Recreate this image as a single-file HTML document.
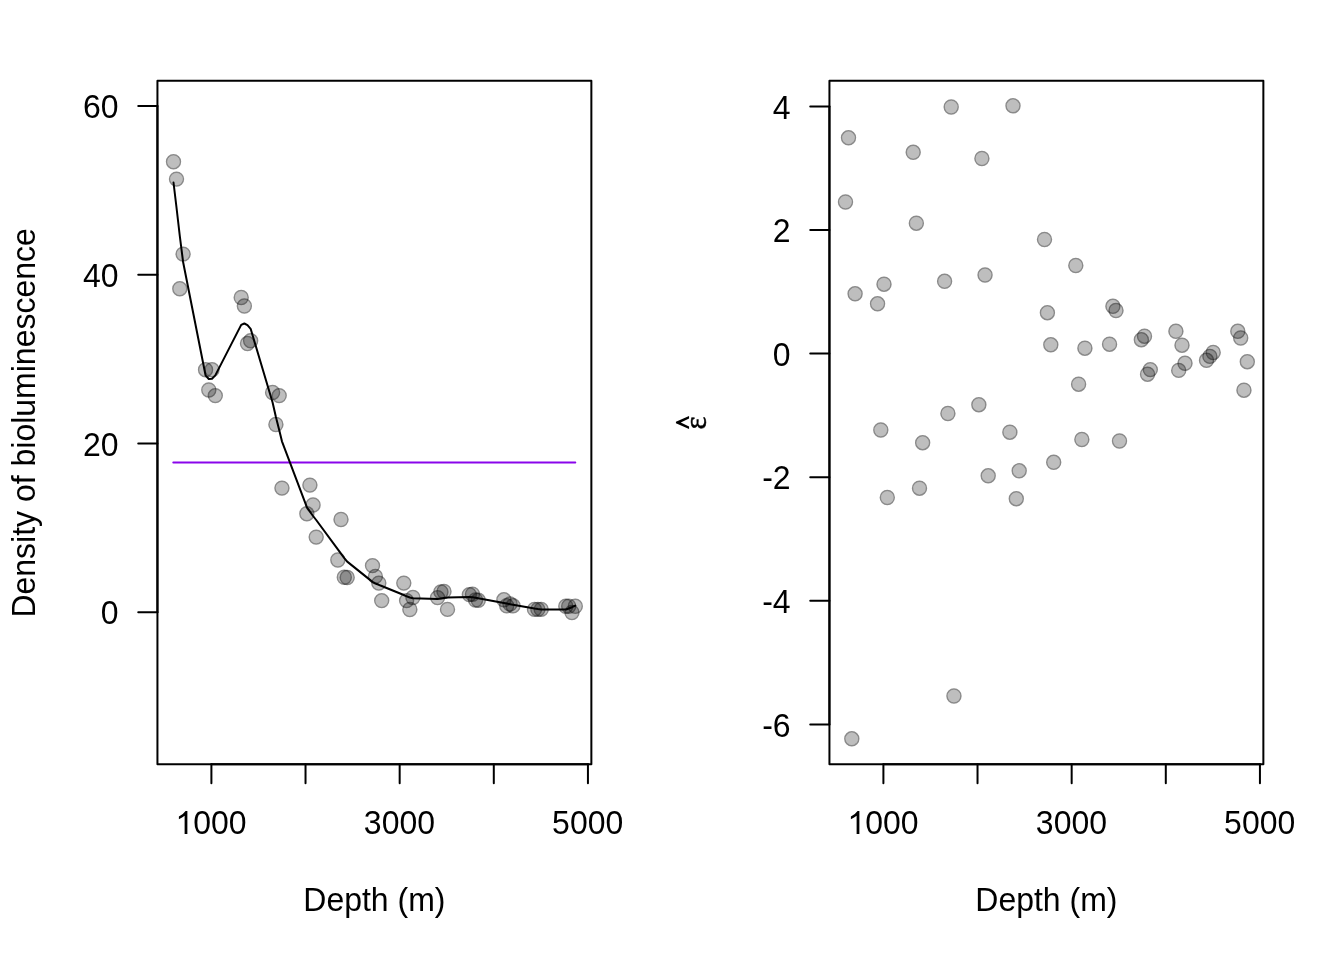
<!DOCTYPE html>
<html><head><meta charset="utf-8"><title>plot</title>
<style>
html,body{margin:0;padding:0;background:#fff;}
svg{display:block;}
text{font-family:"Liberation Sans",sans-serif;font-size:32px;fill:#000;}
.ax{stroke:#000;stroke-width:2;fill:none;stroke-linecap:round;stroke-linejoin:round;}
svg{will-change:transform;}
</style></head><body>
<svg width="1344" height="960" viewBox="0 0 1344 960">
<rect x="0" y="0" width="1344" height="960" fill="#fff"/>
<defs><g id="pt"><circle r="6.2" fill="rgba(0,0,0,0.255)"/><circle r="6.95" fill="none" stroke="rgba(0,0,0,0.46)" stroke-width="1.5"/></g></defs>

<g class="p">
<use href="#pt" x="173.5" y="161.75"/>
<use href="#pt" x="176.5" y="179.1"/>
<use href="#pt" x="183.1" y="254.1"/>
<use href="#pt" x="179.8" y="288.75"/>
<use href="#pt" x="241.2" y="297.5"/>
<use href="#pt" x="244.35" y="306"/>
<use href="#pt" x="250.65" y="340.8"/>
<use href="#pt" x="247.5" y="343.55"/>
<use href="#pt" x="205.55" y="369.75"/>
<use href="#pt" x="212" y="369.75"/>
<use href="#pt" x="208.8" y="390"/>
<use href="#pt" x="215.3" y="395.6"/>
<use href="#pt" x="272.6" y="392.5"/>
<use href="#pt" x="279.2" y="395.6"/>
<use href="#pt" x="275.9" y="424.5"/>
<use href="#pt" x="281.95" y="488.1"/>
<use href="#pt" x="309.9" y="485.1"/>
<use href="#pt" x="313.05" y="505"/>
<use href="#pt" x="306.85" y="513.75"/>
<use href="#pt" x="341" y="519.5"/>
<use href="#pt" x="316.2" y="537.1"/>
<use href="#pt" x="337.85" y="560"/>
<use href="#pt" x="344.3" y="577.25"/>
<use href="#pt" x="347.2" y="577.5"/>
<use href="#pt" x="372.5" y="565.6"/>
<use href="#pt" x="375.4" y="576.4"/>
<use href="#pt" x="378.8" y="583.1"/>
<use href="#pt" x="403.8" y="583.1"/>
<use href="#pt" x="381.7" y="600.6"/>
<use href="#pt" x="412.9" y="597.5"/>
<use href="#pt" x="406.6" y="600.6"/>
<use href="#pt" x="409.85" y="609.5"/>
<use href="#pt" x="437.55" y="597.6"/>
<use href="#pt" x="440.9" y="591.9"/>
<use href="#pt" x="444" y="591.5"/>
<use href="#pt" x="447.5" y="609.4"/>
<use href="#pt" x="469.35" y="594.6"/>
<use href="#pt" x="472.5" y="594.2"/>
<use href="#pt" x="475.55" y="600"/>
<use href="#pt" x="478.3" y="600.3"/>
<use href="#pt" x="503.9" y="599.8"/>
<use href="#pt" x="506.7" y="605.8"/>
<use href="#pt" x="510" y="604"/>
<use href="#pt" x="513" y="605.8"/>
<use href="#pt" x="534.5" y="609.4"/>
<use href="#pt" x="537.9" y="609.4"/>
<use href="#pt" x="541.2" y="609.4"/>
<use href="#pt" x="565.8" y="606.25"/>
<use href="#pt" x="568.7" y="606.25"/>
<use href="#pt" x="571.95" y="612.5"/>
<use href="#pt" x="575.3" y="606.25"/>
</g>
<path d="M173.3 462.5 H575.3" stroke="#8A05EB" stroke-width="2" fill="none" stroke-linecap="round"/>
<path class="ax" d="M173.5 182.5 L176.5 207.5 L179.8 236 L183.1 262 L205.55 375.3 L208.8 379 L212 378.7 L215.3 375.4 L241.2 324.9 L244.35 323.5 L247.5 325.2 L250.65 328.8 L272.6 402.5 L275.9 417 L279.2 430 L281.95 441.3 L306.85 507.2 L309.9 511.6 L313.05 516 L316.2 520 L337.85 549.4 L341 553.7 L344.3 558.1 L347.2 561.6 L372.5 581.9 L375.4 583.5 L378.8 584.8 L381.7 586 L403.8 595 L406.6 596.3 L409.85 597.5 L412.9 598.3 L437.55 599.1 L440.9 598.5 L444 597.9 L447.5 597.5 L469.35 596.9 L472.5 597.2 L475.55 597.7 L478.3 598.3 L503.9 603.1 L506.7 603.6 L510 604.2 L513 604.7 L534.5 608.5 L537.9 609 L541.2 609.4 L565.8 609.5 L568.7 608.5 L571.95 607.2 L575.3 605.6"/>
<rect class="ax" x="157.44" y="80.64" width="433.92" height="683.52"/>
<path class="ax" d="M211.4 764.16 H587.94"/>
<path class="ax" d="M211.4 764.16 v19.2"/>
<path class="ax" d="M305.53 764.16 v19.2"/>
<path class="ax" d="M399.67 764.16 v19.2"/>
<path class="ax" d="M493.8 764.16 v19.2"/>
<path class="ax" d="M587.94 764.16 v19.2"/>
<path transform="translate(175.5 833.9) scale(0.032 -0.0322)" d="M371 0 L285 0 L285 560 Q215 497 106 457 L106 540 Q250 612 315 709 L371 709 Z" fill="#000"/>
<text transform="translate(193.29 834.1) scale(1 1.035)" text-anchor="start">000</text>
<text transform="translate(399.45 834.1) scale(1 1.035)" text-anchor="middle">3000</text>
<text transform="translate(587.7 834.1) scale(1 1.035)" text-anchor="middle">5000</text>
<path class="ax" d="M157.44 612.19 V105.94"/>
<path class="ax" d="M157.44 612.19 h-19.2"/>
<text transform="translate(118.64 624.39) scale(1 1.035)" text-anchor="end">0</text>
<path class="ax" d="M157.44 443.44 h-19.2"/>
<text transform="translate(118.64 455.64) scale(1 1.035)" text-anchor="end">20</text>
<path class="ax" d="M157.44 274.69 h-19.2"/>
<text transform="translate(118.64 286.89) scale(1 1.035)" text-anchor="end">40</text>
<path class="ax" d="M157.44 105.94 h-19.2"/>
<text transform="translate(118.64 118.14) scale(1 1.035)" text-anchor="end">60</text>
<text transform="translate(374.4 910.6) scale(1 1.035)" text-anchor="middle">Depth (m)</text>
<text transform="translate(34.7 422.9) rotate(-90) scale(1 1.035)" text-anchor="middle">Density of bioluminescence</text>
<g class="p">
<use href="#pt" x="845.5" y="202"/>
<use href="#pt" x="848.5" y="137.8"/>
<use href="#pt" x="855.1" y="293.8"/>
<use href="#pt" x="851.8" y="738.8"/>
<use href="#pt" x="913.2" y="152.3"/>
<use href="#pt" x="916.35" y="223.2"/>
<use href="#pt" x="922.65" y="442.7"/>
<use href="#pt" x="919.5" y="488.2"/>
<use href="#pt" x="877.55" y="303.8"/>
<use href="#pt" x="884" y="284.2"/>
<use href="#pt" x="880.8" y="430"/>
<use href="#pt" x="887.3" y="497.5"/>
<use href="#pt" x="944.6" y="281.3"/>
<use href="#pt" x="951.2" y="107"/>
<use href="#pt" x="947.9" y="413.5"/>
<use href="#pt" x="953.95" y="696"/>
<use href="#pt" x="981.9" y="158.5"/>
<use href="#pt" x="985.05" y="275"/>
<use href="#pt" x="978.85" y="404.7"/>
<use href="#pt" x="1013" y="105.8"/>
<use href="#pt" x="988.2" y="475.8"/>
<use href="#pt" x="1009.85" y="432.2"/>
<use href="#pt" x="1016.3" y="498.7"/>
<use href="#pt" x="1019.2" y="470.8"/>
<use href="#pt" x="1044.5" y="239.5"/>
<use href="#pt" x="1047.4" y="312.7"/>
<use href="#pt" x="1050.8" y="344.8"/>
<use href="#pt" x="1075.8" y="265.5"/>
<use href="#pt" x="1053.7" y="462.3"/>
<use href="#pt" x="1084.9" y="348.2"/>
<use href="#pt" x="1078.6" y="384.2"/>
<use href="#pt" x="1081.85" y="439.5"/>
<use href="#pt" x="1109.55" y="344.2"/>
<use href="#pt" x="1112.9" y="306.3"/>
<use href="#pt" x="1116" y="310.5"/>
<use href="#pt" x="1119.5" y="441"/>
<use href="#pt" x="1141.35" y="339.7"/>
<use href="#pt" x="1144.5" y="336.2"/>
<use href="#pt" x="1147.55" y="374.2"/>
<use href="#pt" x="1150.3" y="369.6"/>
<use href="#pt" x="1175.9" y="331.3"/>
<use href="#pt" x="1178.7" y="370.4"/>
<use href="#pt" x="1182" y="345.2"/>
<use href="#pt" x="1185" y="363.3"/>
<use href="#pt" x="1206.5" y="360.3"/>
<use href="#pt" x="1209.9" y="356.4"/>
<use href="#pt" x="1213.2" y="352.5"/>
<use href="#pt" x="1237.8" y="331.3"/>
<use href="#pt" x="1240.7" y="338"/>
<use href="#pt" x="1243.95" y="390.2"/>
<use href="#pt" x="1247.3" y="361.7"/>
</g>
<rect class="ax" x="829.44" y="80.64" width="433.92" height="683.52"/>
<path class="ax" d="M883.4 764.16 H1259.94"/>
<path class="ax" d="M883.4 764.16 v19.2"/>
<path class="ax" d="M977.53 764.16 v19.2"/>
<path class="ax" d="M1071.67 764.16 v19.2"/>
<path class="ax" d="M1165.8 764.16 v19.2"/>
<path class="ax" d="M1259.94 764.16 v19.2"/>
<path transform="translate(847.5 833.9) scale(0.032 -0.0322)" d="M371 0 L285 0 L285 560 Q215 497 106 457 L106 540 Q250 612 315 709 L371 709 Z" fill="#000"/>
<text transform="translate(865.29 834.1) scale(1 1.035)" text-anchor="start">000</text>
<text transform="translate(1071.45 834.1) scale(1 1.035)" text-anchor="middle">3000</text>
<text transform="translate(1259.7 834.1) scale(1 1.035)" text-anchor="middle">5000</text>
<path class="ax" d="M829.44 724.45 V106.4"/>
<path class="ax" d="M829.44 724.45 h-19.2"/>
<text transform="translate(790.64 736.65) scale(1 1.035)" text-anchor="end">-6</text>
<path class="ax" d="M829.44 600.85 h-19.2"/>
<text transform="translate(790.64 613.05) scale(1 1.035)" text-anchor="end">-4</text>
<path class="ax" d="M829.44 477.2 h-19.2"/>
<text transform="translate(790.64 489.4) scale(1 1.035)" text-anchor="end">-2</text>
<path class="ax" d="M829.44 353.6 h-19.2"/>
<text transform="translate(790.64 365.8) scale(1 1.035)" text-anchor="end">0</text>
<path class="ax" d="M829.44 230 h-19.2"/>
<text transform="translate(790.64 242.2) scale(1 1.035)" text-anchor="end">2</text>
<path class="ax" d="M829.44 106.4 h-19.2"/>
<text transform="translate(790.64 118.6) scale(1 1.035)" text-anchor="end">4</text>
<text transform="translate(1046.4 910.6) scale(1 1.035)" text-anchor="middle">Depth (m)</text>
<path d="M689.06 415.94 L675.94 421.69 L675.94 423.31 L689.06 428.88 L689.06 426.44 L680.75 422.41 L689.06 418.38 Z" fill="#000"/>
<text transform="translate(706.2 423) rotate(-90)" text-anchor="middle" style="font-family:'Liberation Serif',serif;font-size:31px;stroke:#000;stroke-width:0.5px">&#949;</text>
</svg></body></html>
